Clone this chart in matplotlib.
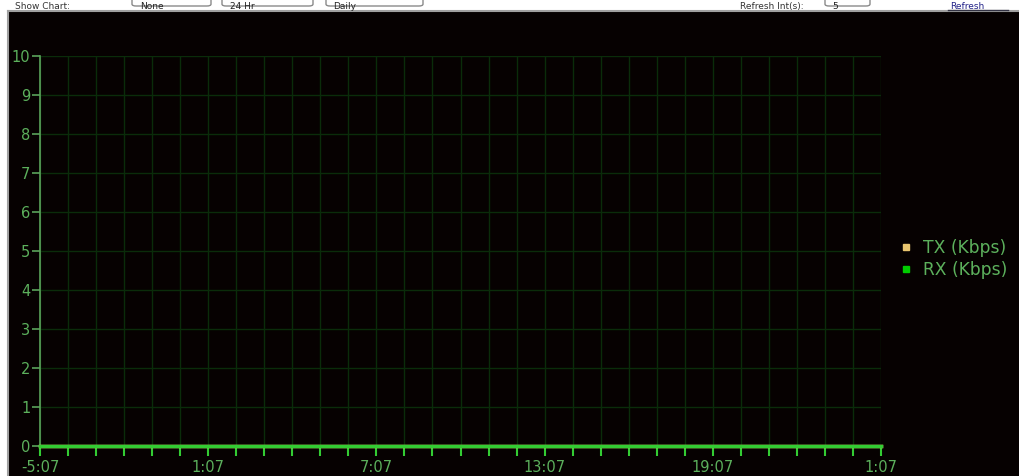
import matplotlib
matplotlib.use("Agg")
import matplotlib.pyplot as plt
from matplotlib.patches import FancyBboxPatch
from matplotlib.lines import Line2D

# ---- data ----
hours = list(range(0, 31))  # hourly samples from -5:07 to 1:07 (+1 day)
tx_kbps = [0] * 31
rx_kbps = [0] * 31
tick_positions = [0, 6, 12, 18, 24, 30]
tick_labels = ["-5:07", "1:07", "7:07", "13:07", "19:07", "1:07"]
y_ticks = list(range(0, 11))
series_names = ["TX (Kbps)", "RX (Kbps)"]

W, H = 1019, 476
fig = plt.figure(figsize=(W / 100, H / 100), dpi=100)
fig.patch.set_facecolor("white")

def fx(px):
    return px / W

def fy(py):
    return 1 - py / H

# black chart panel with grey border (background axes)
bg = fig.add_axes([fx(8), 0, 1 - fx(8), fy(11)], zorder=-5)
bg.set_facecolor("#060101")
bg.set_xticks([])
bg.set_yticks([])
for s in ["right", "bottom"]:
    bg.spines[s].set_visible(False)
for s in ["left", "top"]:
    bg.spines[s].set_color("#a0a0a0")
    bg.spines[s].set_linewidth(1.5)

# top form strip (mostly cut off in the original)
for (x0, x1) in [(132, 211), (222, 313), (326, 423), (825, 870)]:
    box = FancyBboxPatch((fx(x0), fy(6)), fx(x1 - x0), 0.05,
                         boxstyle="round,pad=0,rounding_size=0.004",
                         transform=fig.transFigure, facecolor="white",
                         edgecolor="#8a8a8a", lw=1)
    fig.patches.append(box)
top_fs = 6.5
fig.text(fx(15), fy(9), "Show Chart:", fontsize=top_fs, color="#333333",
         va="baseline", ha="left")
fig.text(fx(140), fy(9), "None", fontsize=top_fs, color="#222222", va="baseline")
fig.text(fx(230), fy(9), "24 Hr", fontsize=top_fs, color="#222222", va="baseline")
fig.text(fx(333), fy(9), "Daily", fontsize=top_fs, color="#222222", va="baseline")
fig.text(fx(740), fy(9), "Refresh Int(s):", fontsize=top_fs, color="#333333",
         va="baseline")
fig.text(fx(832), fy(9), "5", fontsize=top_fs, color="#222222", va="baseline")
fig.text(fx(950), fy(9), "Refresh", fontsize=top_fs, color="#222288",
         va="baseline")
fig.add_artist(Line2D([fx(948), fx(1008)], [fy(10), fy(10)],
                      transform=fig.transFigure, color="#333344", lw=1))

# chart axes
ax = fig.add_axes([fx(40), fy(446), fx(881 - 40), (446 - 56) / H])
ax.set_facecolor("none")
ax.set_xlim(0, 30)
ax.set_ylim(0, 10)

grid_c = "#0a2c0a"
ax.set_xticks(hours, minor=True)
ax.set_yticks(y_ticks)
ax.set_xticks(tick_positions)
ax.set_xticklabels(tick_labels)
ax.grid(True, which="both", axis="x", color=grid_c, lw=1)
ax.grid(True, which="major", axis="y", color=grid_c, lw=1)
ax.set_axisbelow(True)

for s in ["top", "right"]:
    ax.spines[s].set_visible(False)
ax.spines["left"].set_color("#5aa35a")
ax.spines["left"].set_linewidth(1.2)
ax.spines["bottom"].set_color("#33cc33")
ax.spines["bottom"].set_linewidth(2)

lab_c = "#5cb05c"
ax.tick_params(axis="y", colors="#5aa35a", labelcolor=lab_c, length=6,
               width=1.2, pad=1, labelsize=10.5)
ax.tick_params(axis="x", which="both", colors="#33cc33", labelcolor=lab_c,
               length=7, width=1.5, pad=3, labelsize=10.5)

ax.plot(hours, tx_kbps, color="#e9c56f", lw=2.5, clip_on=False, zorder=3)
ax.plot(hours, rx_kbps, color="#33cc33", lw=2.5, clip_on=False, zorder=4)

handles = [
    Line2D([], [], marker="s", ls="none", color="#e9c56f", markersize=4),
    Line2D([], [], marker="s", ls="none", color="#00cc00", markersize=4),
]
leg = fig.legend(handles, series_names, loc="center left",
                 bbox_to_anchor=(fx(889), fy(259)), frameon=False,
                 fontsize=12.3, labelcolor=lab_c, handlelength=1,
                 handletextpad=0.5, labelspacing=0.2, borderpad=0)

fig.savefig("out.png", dpi=100, facecolor=fig.get_facecolor())
